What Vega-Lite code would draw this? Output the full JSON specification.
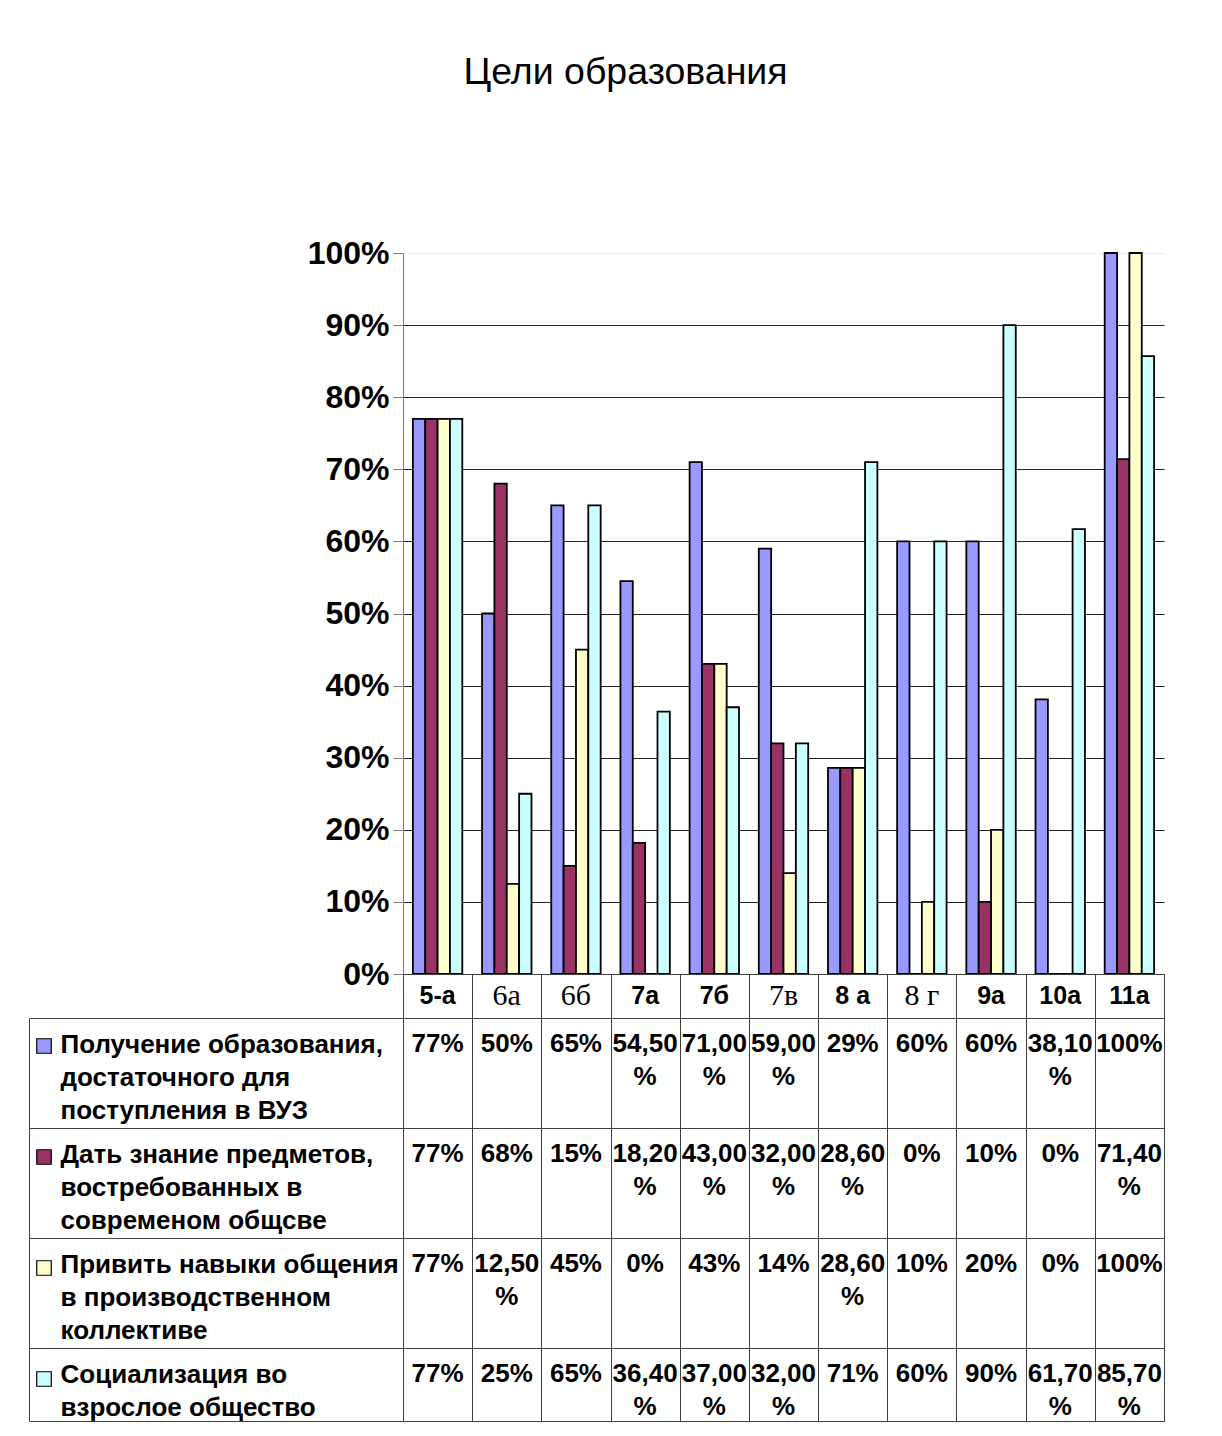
{
  "$schema": "https://vega.github.io/schema/vega-lite/v6.json",
  "padding": {"left": 28, "top": 53, "right": 0, "bottom": 0},
  "background": "white",
  "config": {"font": "Liberation Sans", "view": {"stroke": "#404040"}},
  "title": {"text": "Цели образования", "font": "Liberation Sans", "fontSize": 37.5, "fontWeight": "normal", "color": "#000", "anchor": "middle", "frame": "group", "offset": 146, "dx": -158},
  "data": {"values": [
    {"cls": "5-а", "sid": "s1", "series": "Получение образования,\nдостаточного для\nпоступления в ВУЗ", "value": 77, "text": "77%"},
    {"cls": "6а", "sid": "s1", "series": "Получение образования,\nдостаточного для\nпоступления в ВУЗ", "value": 50, "text": "50%"},
    {"cls": "6б", "sid": "s1", "series": "Получение образования,\nдостаточного для\nпоступления в ВУЗ", "value": 65, "text": "65%"},
    {"cls": "7а", "sid": "s1", "series": "Получение образования,\nдостаточного для\nпоступления в ВУЗ", "value": 54.5, "text": "54,50\n%"},
    {"cls": "7б", "sid": "s1", "series": "Получение образования,\nдостаточного для\nпоступления в ВУЗ", "value": 71, "text": "71,00\n%"},
    {"cls": "7в", "sid": "s1", "series": "Получение образования,\nдостаточного для\nпоступления в ВУЗ", "value": 59, "text": "59,00\n%"},
    {"cls": "8 а", "sid": "s1", "series": "Получение образования,\nдостаточного для\nпоступления в ВУЗ", "value": 28.6, "text": "29%"},
    {"cls": "8 г", "sid": "s1", "series": "Получение образования,\nдостаточного для\nпоступления в ВУЗ", "value": 60, "text": "60%"},
    {"cls": "9а", "sid": "s1", "series": "Получение образования,\nдостаточного для\nпоступления в ВУЗ", "value": 60, "text": "60%"},
    {"cls": "10а", "sid": "s1", "series": "Получение образования,\nдостаточного для\nпоступления в ВУЗ", "value": 38.1, "text": "38,10\n%"},
    {"cls": "11а", "sid": "s1", "series": "Получение образования,\nдостаточного для\nпоступления в ВУЗ", "value": 100, "text": "100%"},
    {"cls": "5-а", "sid": "s2", "series": "Дать знание предметов,\nвостребованных в\nсовременом общсве", "value": 77, "text": "77%"},
    {"cls": "6а", "sid": "s2", "series": "Дать знание предметов,\nвостребованных в\nсовременом общсве", "value": 68, "text": "68%"},
    {"cls": "6б", "sid": "s2", "series": "Дать знание предметов,\nвостребованных в\nсовременом общсве", "value": 15, "text": "15%"},
    {"cls": "7а", "sid": "s2", "series": "Дать знание предметов,\nвостребованных в\nсовременом общсве", "value": 18.2, "text": "18,20\n%"},
    {"cls": "7б", "sid": "s2", "series": "Дать знание предметов,\nвостребованных в\nсовременом общсве", "value": 43, "text": "43,00\n%"},
    {"cls": "7в", "sid": "s2", "series": "Дать знание предметов,\nвостребованных в\nсовременом общсве", "value": 32, "text": "32,00\n%"},
    {"cls": "8 а", "sid": "s2", "series": "Дать знание предметов,\nвостребованных в\nсовременом общсве", "value": 28.6, "text": "28,60\n%"},
    {"cls": "8 г", "sid": "s2", "series": "Дать знание предметов,\nвостребованных в\nсовременом общсве", "value": 0, "text": "0%"},
    {"cls": "9а", "sid": "s2", "series": "Дать знание предметов,\nвостребованных в\nсовременом общсве", "value": 10, "text": "10%"},
    {"cls": "10а", "sid": "s2", "series": "Дать знание предметов,\nвостребованных в\nсовременом общсве", "value": 0, "text": "0%"},
    {"cls": "11а", "sid": "s2", "series": "Дать знание предметов,\nвостребованных в\nсовременом общсве", "value": 71.4, "text": "71,40\n%"},
    {"cls": "5-а", "sid": "s3", "series": "Привить навыки общения\nв производственном\nколлективе", "value": 77, "text": "77%"},
    {"cls": "6а", "sid": "s3", "series": "Привить навыки общения\nв производственном\nколлективе", "value": 12.5, "text": "12,50\n%"},
    {"cls": "6б", "sid": "s3", "series": "Привить навыки общения\nв производственном\nколлективе", "value": 45, "text": "45%"},
    {"cls": "7а", "sid": "s3", "series": "Привить навыки общения\nв производственном\nколлективе", "value": 0, "text": "0%"},
    {"cls": "7б", "sid": "s3", "series": "Привить навыки общения\nв производственном\nколлективе", "value": 43, "text": "43%"},
    {"cls": "7в", "sid": "s3", "series": "Привить навыки общения\nв производственном\nколлективе", "value": 14, "text": "14%"},
    {"cls": "8 а", "sid": "s3", "series": "Привить навыки общения\nв производственном\nколлективе", "value": 28.6, "text": "28,60\n%"},
    {"cls": "8 г", "sid": "s3", "series": "Привить навыки общения\nв производственном\nколлективе", "value": 10, "text": "10%"},
    {"cls": "9а", "sid": "s3", "series": "Привить навыки общения\nв производственном\nколлективе", "value": 20, "text": "20%"},
    {"cls": "10а", "sid": "s3", "series": "Привить навыки общения\nв производственном\nколлективе", "value": 0, "text": "0%"},
    {"cls": "11а", "sid": "s3", "series": "Привить навыки общения\nв производственном\nколлективе", "value": 100, "text": "100%"},
    {"cls": "5-а", "sid": "s4", "series": "Социализация во\nвзрослое общество", "value": 77, "text": "77%"},
    {"cls": "6а", "sid": "s4", "series": "Социализация во\nвзрослое общество", "value": 25, "text": "25%"},
    {"cls": "6б", "sid": "s4", "series": "Социализация во\nвзрослое общество", "value": 65, "text": "65%"},
    {"cls": "7а", "sid": "s4", "series": "Социализация во\nвзрослое общество", "value": 36.4, "text": "36,40\n%"},
    {"cls": "7б", "sid": "s4", "series": "Социализация во\nвзрослое общество", "value": 37, "text": "37,00\n%"},
    {"cls": "7в", "sid": "s4", "series": "Социализация во\nвзрослое общество", "value": 32, "text": "32,00\n%"},
    {"cls": "8 а", "sid": "s4", "series": "Социализация во\nвзрослое общество", "value": 71, "text": "71%"},
    {"cls": "8 г", "sid": "s4", "series": "Социализация во\nвзрослое общество", "value": 60, "text": "60%"},
    {"cls": "9а", "sid": "s4", "series": "Социализация во\nвзрослое общество", "value": 90, "text": "90%"},
    {"cls": "10а", "sid": "s4", "series": "Социализация во\nвзрослое общество", "value": 61.7, "text": "61,70\n%"},
    {"cls": "11а", "sid": "s4", "series": "Социализация во\nвзрослое общество", "value": 85.7, "text": "85,70\n%"}
  ]},
  "vconcat": [
    {
      "width": 761, "height": 721,
      "view": {"stroke": null},
      "mark": {"type": "bar", "stroke": "#000", "strokeWidth": 1.8},
      "encoding": {
        "x": {"field": "cls", "type": "nominal", "sort": ["5-а","6а","6б","7а","7б","7в","8 а","8 г","9а","10а","11а"],
              "scale": {"type": "band", "paddingInner": 0, "paddingOuter": 0},
              "axis": {"title": null, "labels": false, "ticks": false, "grid": false, "domain": true, "domainColor": "#000", "domainWidth": 1}},
        "xOffset": {"field": "sid", "type": "nominal", "sort": ["s1","s2","s3","s4"], "scale": {"paddingInner": 0, "paddingOuter": 0.8}},
        "y": {"field": "value", "type": "quantitative", "scale": {"domain": [0, 100], "nice": false},
              "axis": {"title": null, "values": [0,10,20,30,40,50,60,70,80,90,100], "labelExpr": "datum.value + '%'",
                       "labelFont": "Liberation Sans", "labelFontWeight": "bold", "labelFontSize": 32, "labelColor": "#000",
                       "labelPadding": 4, "tickSize": 10, "tickColor": "#808080", "domainColor": "#808080",
                       "grid": true, "gridColor": {"condition": {"test": "datum.value == 100", "value": "#eeeeee"}, "value": "#222222"}, "gridWidth": 1}},
        "color": {"field": "sid", "type": "nominal", "sort": ["s1","s2","s3","s4"],
                  "scale": {"domain": ["s1","s2","s3","s4"], "range": ["#9999FF", "#993366", "#FFFFCC", "#CCFFFF"]},
                  "legend": {"orient": "none", "legendX": -367, "legendY": 785, "title": null, "direction": "vertical",
                             "symbolType": "square", "symbolSize": 210, "symbolStrokeColor": "#000", "symbolStrokeWidth": 1.2,
                             "labelExpr": "''", "labelFontSize": 1, "labelOffset": 0, "rowPadding": 91, "padding": 0}}
      }
    },
    {
      "width": 761, "height": 44,
      "transform": [{"filter": "datum.sid == 's1'"}],
      "encoding": {
        "x": {"field": "cls", "type": "nominal", "sort": ["5-а","6а","6б","7а","7б","7в","8 а","8 г","9а","10а","11а"],
              "scale": {"type": "band", "paddingInner": 0, "paddingOuter": 0},
              "axis": {"title": null, "labels": false, "ticks": false, "domain": false, "grid": true, "gridColor": "#404040", "tickBand": "extent"}},
        "text": {"field": "cls"}
      },
      "layer": [
        {"transform": [{"filter": "indexof(['6а','6б','7в','8 г'], datum.cls) < 0"}],
         "mark": {"type": "text", "font": "Liberation Sans", "fontWeight": "bold", "fontSize": 25, "baseline": "middle", "color": "#000"}},
        {"transform": [{"filter": "indexof(['6а','6б','7в','8 г'], datum.cls) >= 0"}],
         "mark": {"type": "text", "font": "Liberation Serif", "fontWeight": "normal", "fontSize": 30, "baseline": "middle", "color": "#000"}}
      ]
    },
    {
      "width": 761, "height": 110,
      "transform": [{"filter": "datum.sid == 's1'"}],
      "mark": {"type": "text", "font": "Liberation Sans", "fontWeight": "bold", "fontSize": 26, "lineBreak": "\n", "lineHeight": 33, "baseline": "line-top", "dy": 10, "color": "#000"},
      "encoding": {
        "x": {"field": "cls", "type": "nominal", "sort": ["5-а","6а","6б","7а","7б","7в","8 а","8 г","9а","10а","11а"],
              "scale": {"type": "band", "paddingInner": 0, "paddingOuter": 0},
              "axis": {"title": null, "labels": false, "ticks": false, "domain": false, "grid": true, "gridColor": "#404040", "tickBand": "extent"}},
        "y": {"field": "series", "type": "nominal", "bandPosition": 0, "scale": {"type": "band", "paddingInner": 0, "paddingOuter": 0},
              "axis": {"title": null, "orient": "left", "offset": 374, "domain": true, "domainColor": "#404040", "ticks": true, "tickSize": -374, "tickColor": "#404040", "tickBand": "extent",
                       "labelExpr": "split(datum.label, '\\n')", "labelAlign": "left", "labelBaseline": "line-top", "labelLineHeight": 33, "labelPadding": 343, "labelOffset": -45,
                       "labelFont": "Liberation Sans", "labelFontWeight": "bold", "labelFontSize": 26, "labelColor": "#000", "labelLimit": 500}},
        "text": {"field": "text"}
      }
    },
    {
      "width": 761, "height": 110,
      "transform": [{"filter": "datum.sid == 's2'"}],
      "mark": {"type": "text", "font": "Liberation Sans", "fontWeight": "bold", "fontSize": 26, "lineBreak": "\n", "lineHeight": 33, "baseline": "line-top", "dy": 10, "color": "#000"},
      "encoding": {
        "x": {"field": "cls", "type": "nominal", "sort": ["5-а","6а","6б","7а","7б","7в","8 а","8 г","9а","10а","11а"],
              "scale": {"type": "band", "paddingInner": 0, "paddingOuter": 0},
              "axis": {"title": null, "labels": false, "ticks": false, "domain": false, "grid": true, "gridColor": "#404040", "tickBand": "extent"}},
        "y": {"field": "series", "type": "nominal", "bandPosition": 0, "scale": {"type": "band", "paddingInner": 0, "paddingOuter": 0},
              "axis": {"title": null, "orient": "left", "offset": 374, "domain": true, "domainColor": "#404040", "ticks": true, "tickSize": -374, "tickColor": "#404040", "tickBand": "extent",
                       "labelExpr": "split(datum.label, '\\n')", "labelAlign": "left", "labelBaseline": "line-top", "labelLineHeight": 33, "labelPadding": 343, "labelOffset": -45,
                       "labelFont": "Liberation Sans", "labelFontWeight": "bold", "labelFontSize": 26, "labelColor": "#000", "labelLimit": 500}},
        "text": {"field": "text"}
      }
    },
    {
      "width": 761, "height": 110,
      "transform": [{"filter": "datum.sid == 's3'"}],
      "mark": {"type": "text", "font": "Liberation Sans", "fontWeight": "bold", "fontSize": 26, "lineBreak": "\n", "lineHeight": 33, "baseline": "line-top", "dy": 10, "color": "#000"},
      "encoding": {
        "x": {"field": "cls", "type": "nominal", "sort": ["5-а","6а","6б","7а","7б","7в","8 а","8 г","9а","10а","11а"],
              "scale": {"type": "band", "paddingInner": 0, "paddingOuter": 0},
              "axis": {"title": null, "labels": false, "ticks": false, "domain": false, "grid": true, "gridColor": "#404040", "tickBand": "extent"}},
        "y": {"field": "series", "type": "nominal", "bandPosition": 0, "scale": {"type": "band", "paddingInner": 0, "paddingOuter": 0},
              "axis": {"title": null, "orient": "left", "offset": 374, "domain": true, "domainColor": "#404040", "ticks": true, "tickSize": -374, "tickColor": "#404040", "tickBand": "extent",
                       "labelExpr": "split(datum.label, '\\n')", "labelAlign": "left", "labelBaseline": "line-top", "labelLineHeight": 33, "labelPadding": 343, "labelOffset": -45,
                       "labelFont": "Liberation Sans", "labelFontWeight": "bold", "labelFontSize": 26, "labelColor": "#000", "labelLimit": 500}},
        "text": {"field": "text"}
      }
    },
    {
      "width": 761, "height": 73,
      "transform": [{"filter": "datum.sid == 's4'"}],
      "mark": {"type": "text", "font": "Liberation Sans", "fontWeight": "bold", "fontSize": 26, "lineBreak": "\n", "lineHeight": 33, "baseline": "line-top", "dy": 10, "color": "#000"},
      "encoding": {
        "x": {"field": "cls", "type": "nominal", "sort": ["5-а","6а","6б","7а","7б","7в","8 а","8 г","9а","10а","11а"],
              "scale": {"type": "band", "paddingInner": 0, "paddingOuter": 0},
              "axis": {"title": null, "labels": false, "ticks": false, "domain": false, "grid": true, "gridColor": "#404040", "tickBand": "extent"}},
        "y": {"field": "series", "type": "nominal", "bandPosition": 0, "scale": {"type": "band", "paddingInner": 0, "paddingOuter": 0},
              "axis": {"title": null, "orient": "left", "offset": 374, "domain": true, "domainColor": "#404040", "ticks": true, "tickSize": -374, "tickColor": "#404040", "tickBand": "extent",
                       "labelExpr": "split(datum.label, '\\n')", "labelAlign": "left", "labelBaseline": "line-top", "labelLineHeight": 33, "labelPadding": 343, "labelOffset": -26.5,
                       "labelFont": "Liberation Sans", "labelFontWeight": "bold", "labelFontSize": 26, "labelColor": "#000", "labelLimit": 500}},
        "text": {"field": "text"}
      }
    }
  ],
  "spacing": 0,
  "bounds": "flush"
}
